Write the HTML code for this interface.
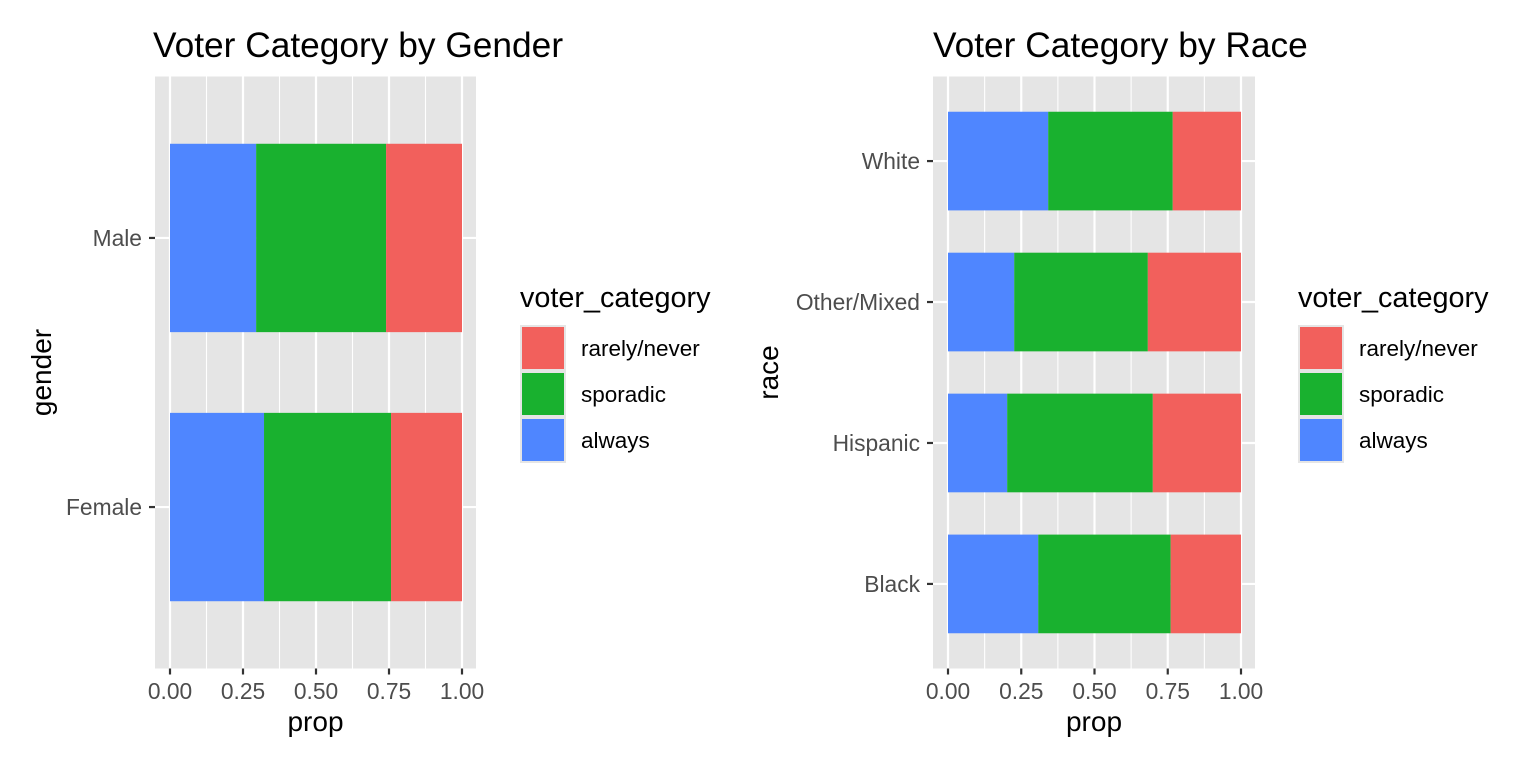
<!DOCTYPE html>
<html><head><meta charset="utf-8"><style>body{margin:0;background:#fff}svg{display:block;font-family:"Liberation Sans",Arial,sans-serif}</style></head>
<body>
<svg id="chart" width="1536" height="768" viewBox="0 0 1536 768"></svg>
<script>
const genderCats = ["Female","Male"];
const genderAlways = [0.322, 0.295];
const genderSporadic = [0.435, 0.445];
const raceCats = ["Black","Hispanic","Other/Mixed","White"];
const raceAlways = [0.308, 0.202, 0.226, 0.342];
const raceSporadic = [0.452, 0.497, 0.456, 0.425];
const xTicks = [0, 0.25, 0.5, 0.75, 1];
const xTickLabels = ["0.00","0.25","0.50","0.75","1.00"];
const legendLabels = ["rarely/never","sporadic","always"];
const colors = {always:"#4F86FF", sporadic:"#19B12F", rarely:"#F2605C"};

const svg = document.getElementById('chart');
const NS = "http://www.w3.org/2000/svg";
function mk(tag, attrs, parent){const e=document.createElementNS(NS,tag);for(const k in attrs)e.setAttribute(k,attrs[k]);(parent||svg).appendChild(e);return e;}

function panel(opt){
  const g = mk('g',{});
  
  
  const L=opt.left,R=opt.right,T=76.5,B=668.5;
  const x0=L+15, x1=R-14;
  const xs=v=>x0+v*(x1-x0);
  const n=opt.cats.length, band=(B-T)/(n+0.2);
  const ys=i=>B-band*(0.6+i);
  const bg=mk('rect',{x:L,y:T,width:R-L,height:B-T,fill:'#E5E5E5'},g);
  
  
  for(let i=0;i<xTicks.length-1;i++){const m=xs((xTicks[i]+xTicks[i+1])/2);mk('line',{x1:m,x2:m,y1:T,y2:B,stroke:'#fff','stroke-width':1.1},g);}
  xTicks.forEach(v=>mk('line',{x1:xs(v),x2:xs(v),y1:T,y2:B,stroke:'#fff','stroke-width':2.2},g));
  opt.cats.forEach((c,i)=>mk('line',{x1:L,x2:R,y1:ys(i),y2:ys(i),stroke:'#fff','stroke-width':2.2},g));
  opt.cats.forEach((c,i)=>{
    const y=ys(i)-band*0.35,h=band*0.7;
    const a=opt.always[i],s=opt.sporadic[i];
    const segs=[[0,a,'always'],[a,a+s,'sporadic'],[a+s,1,'rarely']];
    segs.forEach(sg=>{
      const r=mk('rect',{x:xs(sg[0]),y:y,width:xs(sg[1])-xs(sg[0]),height:h,fill:colors[sg[2]]},g);
      
      
    });
    mk('line',{x1:L-6,x2:L,y1:ys(i),y2:ys(i),stroke:'#333','stroke-width':2.2},g);
    const t=mk('text',{x:L-13,y:ys(i)+8,'text-anchor':'end','font-size':22.8,fill:'#4D4D4D'},g);t.textContent=c;
    
    
  });
  xTicks.forEach((v,i)=>{
    mk('line',{x1:xs(v),x2:xs(v),y1:B,y2:B+6,stroke:'#333','stroke-width':2.2},g);
    const t=mk('text',{x:xs(v),y:699,'text-anchor':'middle','font-size':22.8,fill:'#4D4D4D'},g);t.textContent=xTickLabels[i];
    
    
  });
  const xt=mk('text',{x:(L+R)/2,y:731,'text-anchor':'middle','font-size':28,fill:'#000'},g);xt.textContent='prop';
  
  
  const yt=mk('text',{x:0,y:0,'text-anchor':'middle','font-size':28,fill:'#000',transform:`translate(${opt.ytx},${(T+B)/2}) rotate(-90)`},g);yt.textContent=opt.ytitle;
  
  
  const tt=mk('text',{x:opt.titleX,y:57,'font-size':35.3,fill:'#000'},g);tt.textContent=opt.title;
  
  
  const lg=mk('g',{},g);
  
  
  const lt=mk('text',{x:opt.legX,y:307,'font-size':28.8,fill:'#000'},lg);lt.textContent='voter_category';
  const lc=[colors.rarely,colors.sporadic,colors.always];
  legendLabels.forEach((lab,i)=>{
    const y=325+i*46;
    mk('rect',{x:opt.legX,y:y,width:46,height:46,fill:'#E5E5E5'},lg);
    const r=mk('rect',{x:opt.legX+2,y:y+2,width:42,height:42,fill:lc[i]},lg);
    
    
    const t=mk('text',{x:opt.legX+61,y:y+31,'font-size':22.5,fill:'#000'},lg);t.textContent=lab;
    
    
  });
}
panel({name:'gender-panel',left:155,right:476,cats:genderCats,always:genderAlways,sporadic:genderSporadic,ytitle:'gender',ytx:51,title:'Voter Category by Gender',titleX:153,legX:520});
panel({name:'race-panel',left:933,right:1255,cats:raceCats,always:raceAlways,sporadic:raceSporadic,ytitle:'race',ytx:778,title:'Voter Category by Race',titleX:933,legX:1298});
</script>
</body></html>
